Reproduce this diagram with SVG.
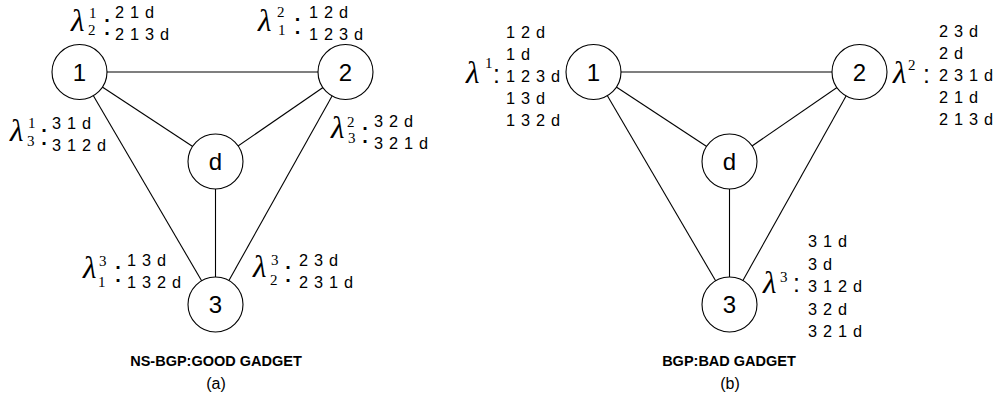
<svg xmlns="http://www.w3.org/2000/svg" width="1000" height="402" viewBox="0 0 1000 402">
<style>
.edge{stroke:#000;stroke-width:1.1;fill:none}
.node circle{fill:#fff;stroke:#000;stroke-width:1.1}
.nl{font-family:"Liberation Sans",Arial,sans-serif;font-size:24px;text-anchor:middle;fill:#000}
.lam{font-family:"Liberation Serif","Times New Roman",serif;font-style:italic;font-size:31px;fill:#000}
.idx{font-family:"Liberation Serif","Times New Roman",serif;font-size:15px;fill:#000}
.cola{font-family:"Liberation Sans",Arial,sans-serif;font-size:29px;fill:#000}
.colb{font-family:"Liberation Sans",Arial,sans-serif;font-size:25px;fill:#000}
.p{font-family:"Liberation Sans",Arial,sans-serif;font-size:16.3px;letter-spacing:0.7px;fill:#000}
.title{font-family:"Liberation Sans",Arial,sans-serif;font-size:14.5px;font-weight:bold;text-anchor:middle;fill:#000}
.sub{font-family:"Liberation Sans",Arial,sans-serif;font-size:16px;text-anchor:middle;fill:#000}
</style>
<g id="connectors">
<line class="edge" x1="79.5" y1="72" x2="345.5" y2="72"/>
<line class="edge" x1="79.5" y1="72" x2="215.5" y2="161.5"/>
<line class="edge" x1="345.5" y1="72" x2="215.5" y2="161.5"/>
<line class="edge" x1="79.5" y1="72" x2="215.5" y2="304.5"/>
<line class="edge" x1="345.5" y1="72" x2="215.5" y2="304.5"/>
<line class="edge" x1="215.5" y1="161.5" x2="215.5" y2="304.5"/>
<line class="edge" x1="593.5" y1="72" x2="859.5" y2="72"/>
<line class="edge" x1="593.5" y1="72" x2="729.5" y2="161.5"/>
<line class="edge" x1="859.5" y1="72" x2="729.5" y2="161.5"/>
<line class="edge" x1="593.5" y1="72" x2="729.5" y2="304.5"/>
<line class="edge" x1="859.5" y1="72" x2="729.5" y2="304.5"/>
<line class="edge" x1="729.5" y1="161.5" x2="729.5" y2="304.5"/>
</g>
<g id="a-node-1" class="node"><circle cx="79.5" cy="72" r="27.5"/><text class="nl" x="79.5" y="80.5">1</text></g>
<g id="a-node-2" class="node"><circle cx="345.5" cy="72" r="27.5"/><text class="nl" x="345.5" y="80.5">2</text></g>
<g id="a-node-d" class="node"><circle cx="215.5" cy="161.5" r="27.5"/><text class="nl" x="215.5" y="170">d</text></g>
<g id="a-node-3" class="node"><circle cx="215.5" cy="304.5" r="27.5"/><text class="nl" x="215.5" y="313">3</text></g>
<g id="b-node-1" class="node"><circle cx="593.5" cy="72" r="27.5"/><text class="nl" x="593.5" y="80.5">1</text></g>
<g id="b-node-2" class="node"><circle cx="859.5" cy="72" r="27.5"/><text class="nl" x="859.5" y="80.5">2</text></g>
<g id="b-node-d" class="node"><circle cx="729.5" cy="161.5" r="27.5"/><text class="nl" x="729.5" y="170">d</text></g>
<g id="b-node-3" class="node"><circle cx="729.5" cy="304.5" r="27.5"/><text class="nl" x="729.5" y="313">3</text></g>
<g id="a-label-1">
<text class="lam" x="71" y="31">λ</text><text class="idx" x="89" y="18">1</text><text class="idx" x="88" y="35">2</text>
<text class="cola" x="103" y="35">:</text>
<text class="p" x="115" y="18">2 1 d</text><text class="p" x="115" y="40">2 1 3 d</text>
</g>
<g id="a-label-2">
<text class="lam" x="258" y="31">λ</text><text class="idx" x="277" y="17">2</text><text class="idx" x="278" y="35">1</text>
<text class="cola" x="293.5" y="34">:</text>
<text class="p" x="309" y="17.5">1 2 d</text><text class="p" x="309" y="39.5">1 2 3 d</text>
</g>
<g id="a-label-3">
<text class="lam" x="10" y="141">λ</text><text class="idx" x="28" y="128">1</text><text class="idx" x="27" y="146">3</text>
<text class="cola" x="40" y="145">:</text>
<text class="p" x="52" y="129">3 1 d</text><text class="p" x="52" y="151">3 1 2 d</text>
</g>
<g id="a-label-4">
<text class="lam" x="331" y="138">λ</text><text class="idx" x="347" y="127">2</text><text class="idx" x="348" y="143">3</text>
<text class="cola" x="361" y="143">:</text>
<text class="p" x="374" y="127">3 2 d</text><text class="p" x="374" y="149">3 2 1 d</text>
</g>
<g id="a-label-5">
<text class="lam" x="83" y="278">λ</text><text class="idx" x="99" y="266">3</text><text class="idx" x="98" y="287">1</text>
<text class="cola" x="114" y="282">:</text>
<text class="p" x="127" y="266">1 3 d</text><text class="p" x="127" y="288">1 3 2 d</text>
</g>
<g id="a-label-6">
<text class="lam" x="253" y="277">λ</text><text class="idx" x="271" y="265">3</text><text class="idx" x="270" y="285">2</text>
<text class="cola" x="284" y="282">:</text>
<text class="p" x="299" y="266">2 3 d</text><text class="p" x="299" y="288">2 3 1 d</text>
</g>
<g id="b-label-1">
<text class="lam" x="466" y="83">λ</text><text class="idx" x="485" y="68">1</text>
<text class="colb" x="493" y="83">:</text>
<text class="p" x="506" y="38">1 2 d</text><text class="p" x="506" y="60">1 d</text><text class="p" x="506" y="82">1 2 3 d</text><text class="p" x="506" y="104">1 3 d</text><text class="p" x="506" y="126">1 3 2 d</text>
</g>
<g id="b-label-2">
<text class="lam" x="893" y="83">λ</text><text class="idx" x="908" y="70">2</text>
<text class="colb" x="923" y="83">:</text>
<text class="p" x="939" y="37">2 3 d</text><text class="p" x="939" y="59">2 d</text><text class="p" x="939" y="81">2 3 1 d</text><text class="p" x="939" y="103">2 1 d</text><text class="p" x="939" y="125">2 1 3 d</text>
</g>
<g id="b-label-3">
<text class="lam" x="763" y="293">λ</text><text class="idx" x="780" y="282">3</text>
<text class="colb" x="793" y="292">:</text>
<text class="p" x="808" y="247">3 1 d</text><text class="p" x="808" y="269.5">3 d</text><text class="p" x="808" y="292">3 1 2 d</text><text class="p" x="808" y="314.5">3 2 d</text><text class="p" x="808" y="337">3 2 1 d</text>
</g>
<g id="captions">
<text class="title" x="216" y="366">NS-BGP:GOOD GADGET</text>
<text class="sub" x="216" y="389">(a)</text>
<text class="title" x="729" y="366">BGP:BAD GADGET</text>
<text class="sub" x="730" y="389">(b)</text>
</g>
</svg>
